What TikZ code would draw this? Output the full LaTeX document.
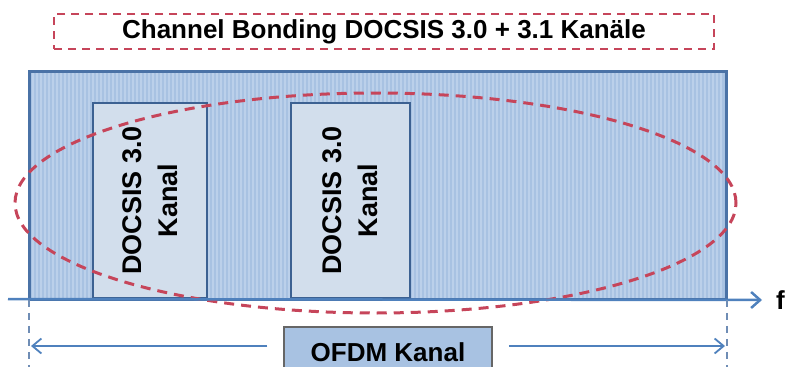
\documentclass[tikz,border=0pt]{standalone}
\usepackage{fontspec}
\setmainfont{Liberation Sans}
\usepackage{tikz}
\usetikzlibrary{positioning}
\usetikzlibrary{arrows.meta}
\usetikzlibrary{shapes.geometric}
\definecolor{chanblue}{HTML}{A8C2E2}
\definecolor{stripeblue}{HTML}{BBD0EA}
\definecolor{edgeblue}{HTML}{4A72A6}
\definecolor{kanalfill}{HTML}{D2DEEC}
\definecolor{kanaledge}{HTML}{3C6192}
\definecolor{axisblue}{HTML}{4F81BD}
\definecolor{bondred}{HTML}{C6455A}
\definecolor{guidegray}{HTML}{6F8DB5}
\tikzstyle{band} = [rectangle, draw=edgeblue, line width=1.8pt, fill=chanblue,
    minimum width=696pt, minimum height=227pt, inner sep=0pt]
\tikzstyle{kanal} = [rectangle, draw=kanaledge, line width=2.6pt, fill=kanalfill,
    rotate=90, align=center, minimum height=114pt, minimum width=195pt,
    font=\bfseries\fontsize{27}{36}\selectfont]
\tikzstyle{bondbox} = [rectangle, draw=bondred, line width=2.4pt, dash pattern=on 8pt off 6pt,
    minimum width=660pt, minimum height=35pt]
\tikzstyle{bond} = [ellipse, draw=bondred, line width=3pt, dash pattern=on 10pt off 7pt,
    minimum width=721pt, minimum height=220pt]
\tikzstyle{label} = [rectangle, draw=gray!80!black, line width=1.5pt, fill=chanblue,
    minimum width=208pt, minimum height=50pt]
\tikzstyle{axis} = [draw=axisblue, line width=2.5pt, -{Straight Barb[length=9pt, width=16pt]}]
\tikzstyle{line} = [draw=axisblue, line width=1.8pt, -{Straight Barb[length=9pt, width=15pt]}]
\tikzstyle{guide} = [draw=guidegray, line width=1.5pt, dash pattern=on 7pt off 6pt]

\begin{document}
\begin{tikzpicture}[x=1pt, y=-1pt, font=\bfseries\fontsize{26}{31}\selectfont]
  \useasboundingbox (0,0) rectangle (788,367);

  \node [bondbox] (title) at (384,31.5) {Channel Bonding DOCSIS 3.0 + 3.1 Kanäle};

  % OFDM band with its fine vertical lines
  \node [band] (ofdm) at (378,185.5) {};
  \foreach \x in {33,37,...,723}
    \draw [stripeblue, line width=1.1pt] (\x,73) -- (\x,298);
  \draw [edgeblue, line width=1.8pt] (ofdm.north west) rectangle (ofdm.south east);

  \node [kanal] (k1) at (150,200.5) {DOCSIS 3.0\\Kanal};
  \node [kanal, minimum height=119pt] (k2) at (350.5,200.5) {DOCSIS 3.0\\Kanal};

  \node [bond] (bond) at (375.5,203) {};

  % frequency axis
  \coordinate (f0) at (8,299);
  \node [anchor=west, inner sep=0pt] (f) at (776,300) {f};
  \path [axis] (f0) -- ([xshift=-14pt]f.west);

  % width of the OFDM channel
  \draw [guide] (ofdm.south west) -- ++(0,70);
  \draw [guide] (ofdm.south east) -- ++(0,70);
  \node [label] (ofdmlbl) at (388,352) {OFDM Kanal};
  \coordinate (lo) at (31,346);
  \coordinate (hi) at (725,346);
  \path [line] (lo -| ofdmlbl.west) ++(-16,0) -- (lo);
  \path [line] (hi -| ofdmlbl.east) ++(16,0) -- (hi);
\end{tikzpicture}
\end{document}
